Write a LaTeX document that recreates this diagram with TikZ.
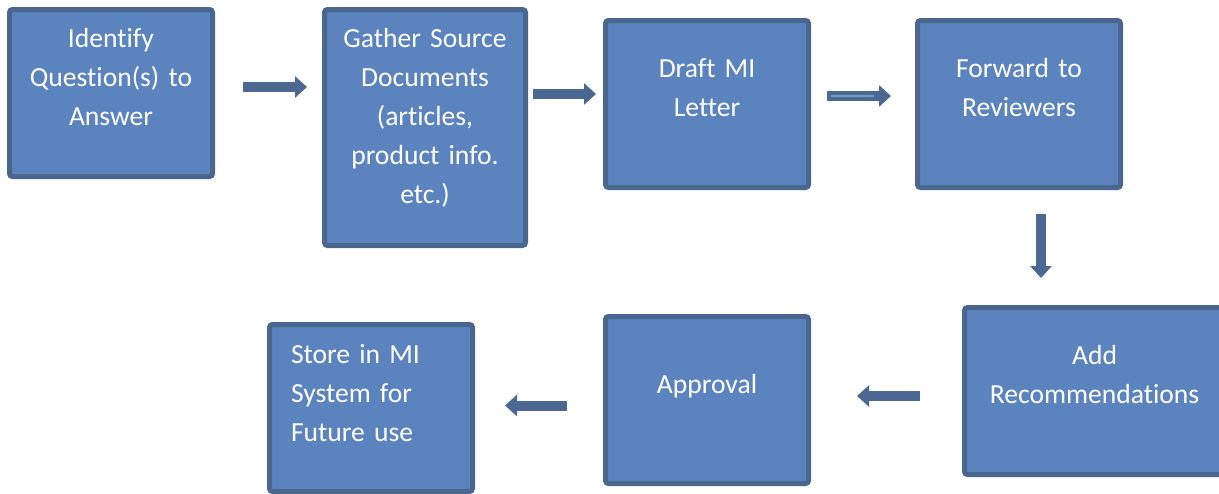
\documentclass[tikz,border=0pt]{standalone}
\usepackage{fontspec}
\setmainfont{Carlito}[Ligatures=NoCommon, WordSpace=0.8]
\usetikzlibrary{arrows.meta}
\definecolor{boxfill}{RGB}{91,131,190}
\definecolor{boxline}{RGB}{74,102,142}
\definecolor{arrowc}{RGB}{76,104,146}
\begin{document}
\begin{tikzpicture}[x=0.5pt, y=-0.5pt,
  box/.style={draw=boxline, fill=boxfill, line width=2.5pt, rounded corners=1.5pt,
    inner sep=0pt, outer sep=0pt, text=white, align=center, text width=101.5pt,
    font=\fontsize{13.8pt}{19.5pt}\selectfont},
  flow/.style={draw=arrowc, line width=5pt, -{Triangle[width=10.5pt, length=6pt]}}]

  \useasboundingbox (0,0) rectangle (1219,493);
  \clip (0,0) rectangle (1219,493);

  % 上排方框
  \node[box, text height=18.75pt, text depth=64.75pt] (ident) at (111,93)
    {Identify\\Question(s) to\\Answer};
  \node[box, text width=100.5pt, text height=18.75pt, text depth=99.25pt] (gather) at (425,127.5)
    {Gather Source\\Documents\\(articles,\\product info.\\etc.)};
  \node[box, text height=28.5pt, text depth=55pt] (draft) at (707,104)
    {Draft MI\\Letter};
  \node[box, text height=28.25pt, text depth=55.25pt] (forward) at (1019,104)
    {Forward to\\Reviewers};

  % 下排方框
  \node[box, text width=130pt, text height=28.25pt, text depth=55.25pt] (recomm) at (1094.5,391)
    {Add\\Recommendations};
  \node[box, text height=38.25pt, text depth=45.25pt] (approval) at (707,400)
    {Approval};
  \node[box, align=left, inner xsep=10.75pt, text width=80pt, text height=19.25pt, text depth=64.25pt]
    (store) at (371,408) {Store in MI\\System for\\Future use};

  % 箭头
  \draw[flow, shorten <=15.25pt, shorten >=8.75pt]
    ([yshift=3pt]ident.east) -- ([yshift=20.25pt]gather.west);
  \draw[flow, shorten <=3.75pt, shorten >=4.75pt]
    ([yshift=16.75pt]gather.east) -- ([yshift=5pt]draft.west);
  \draw[flow, shorten <=9.25pt, shorten >=13.25pt,
    postaction={draw=boxfill!80!white, line width=0.7pt, -, shorten <=11.25pt, shorten >=21.75pt}]
    ([yshift=4pt]draft.east) -- ([yshift=4pt]forward.west);
  \draw[flow, shorten <=13.25pt, shorten >=14.75pt]
    ([xshift=11pt]forward.south) -- ([xshift=-26.75pt]recomm.north);
  \draw[flow, shorten <=22.25pt, shorten >=24.25pt]
    ([yshift=-2.5pt]recomm.west) -- ([yshift=2pt]approval.east);
  \draw[flow, shorten <=19.25pt, shorten >=16.25pt]
    ([yshift=-2.75pt]approval.west) -- ([yshift=1.25pt]store.east);

\end{tikzpicture}
\end{document}
